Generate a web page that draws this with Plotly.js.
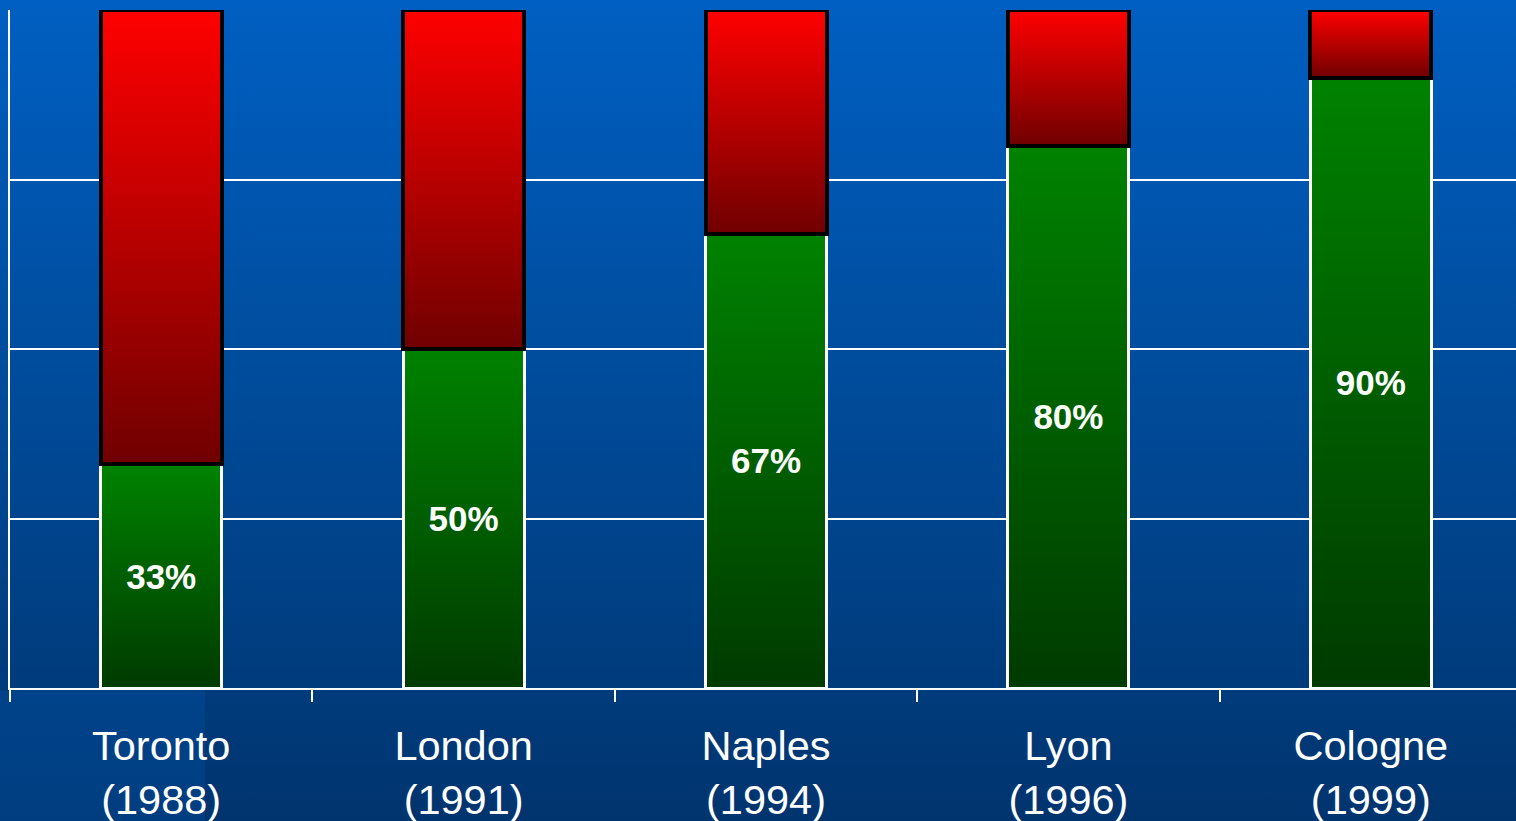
<!DOCTYPE html>
<html>
<head>
<meta charset="utf-8">
<script src="https://cdn.plot.ly/plotly-3.0.1.min.js"></script>
<style>
  html, body { margin: 0; padding: 0; width: 1516px; height: 821px; overflow: hidden;
    background: linear-gradient(to bottom, #005fc2 0%, #004c9c 45%, #00346e 100%); }
  #chart { width: 1516px; height: 821px; }
</style>
</head>
<body>
<div id="chart"></div>
<script>
const cities = ['Toronto<br>(1988)', 'London<br>(1991)', 'Naples<br>(1994)', 'Lyon<br>(1996)', 'Cologne<br>(1999)'];
const successPct = [33, 50, 67, 80, 90];
const remainderPct = [67, 50, 33, 20, 10];

const greenTrace = {
  type: 'bar', x: cities, y: successPct,
  marker: { color: '#006000', line: { color: '#ffffff', width: 3 } },
  texttemplate: '%{y}%', textposition: 'inside', insidetextanchor: 'middle',
  textfont: { family: 'Arial, Liberation Sans, sans-serif', size: 35, color: '#ffffff', weight: 'bold' },
  constraintext: 'none', width: 0.4, hoverinfo: 'none'
};
const redTrace = {
  type: 'bar', x: cities, y: remainderPct,
  marker: { color: '#b00000', line: { color: '#000000', width: 4 } },
  text: remainderPct.map(() => ''), textposition: 'none',
  width: 0.4, hoverinfo: 'none'
};

const layout = {
  width: 1516, height: 821,
  margin: { l: 10, r: 0, t: 10, b: 133 },
  paper_bgcolor: 'rgba(0,0,0,0)', plot_bgcolor: 'rgba(0,0,0,0)',
  barmode: 'stack', showlegend: false,
  font: { family: 'Arial, Liberation Sans, sans-serif', color: '#ffffff' },
  xaxis: {
    type: 'category', range: [-0.5, 4.48],
    showline: true, linecolor: '#ffffff', linewidth: 2,
    ticks: 'outside', tickson: 'boundaries', ticklen: 12, tickwidth: 2, tickcolor: '#ffffff',
    tickfont: { size: 41.5, color: '#ffffff' }, ticklabelstandoff: 20,
    showgrid: false, fixedrange: true
  },
  yaxis: {
    range: [0, 100], dtick: 25, showticklabels: false,
    showgrid: true, gridcolor: '#ffffff', gridwidth: 2,
    showline: true, linecolor: '#ffffff', linewidth: 2,
    zeroline: false, ticks: '', fixedrange: true
  },
  shapes: [{
    type: 'rect', xref: 'paper', yref: 'paper', layer: 'below',
    x0: -0.0067, x1: 0.1295, y0: -0.2, y1: -0.004,
    fillcolor: 'rgba(0,100,200,0.2)', line: { width: 0 }
  }]
};

Plotly.newPlot('chart', [greenTrace, redTrace], layout, { displayModeBar: false, staticPlot: true }).then(gd => {
  const svg = gd.querySelector('svg.main-svg');
  const ns = 'http://www.w3.org/2000/svg';
  const defs = document.createElementNS(ns, 'defs');
  function grad(id, top, bottom) {
    const lg = document.createElementNS(ns, 'linearGradient');
    lg.setAttribute('id', id);
    lg.setAttribute('x1', '0'); lg.setAttribute('y1', '0');
    lg.setAttribute('x2', '0'); lg.setAttribute('y2', '1');
    [[0, top], [1, bottom]].forEach(([o, c]) => {
      const s = document.createElementNS(ns, 'stop');
      s.setAttribute('offset', o); s.setAttribute('stop-color', c);
      lg.appendChild(s);
    });
    defs.appendChild(lg);
  }
  grad('gradGreen', '#008200', '#003a00');
  grad('gradRed', '#ff0000', '#700000');
  svg.insertBefore(defs, svg.firstChild);
  const traces = gd.querySelectorAll('g.trace.bars');
  const ids = ['gradGreen', 'gradRed'];
  traces.forEach((t, i) => {
    t.querySelectorAll('g.point path').forEach(p => { p.style.fill = 'url(#' + ids[i] + ')'; });
  });
});
</script>
</body>
</html>
